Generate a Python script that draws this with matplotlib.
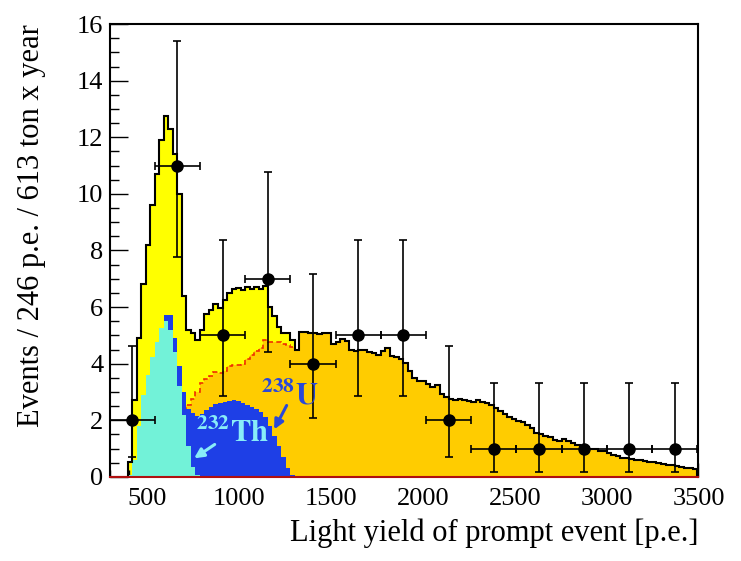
import numpy as np
import matplotlib
matplotlib.use("Agg")
import matplotlib.pyplot as plt
from matplotlib.ticker import MultipleLocator

plt.rcParams['font.family'] = ['Liberation Serif', 'DejaVu Serif']
plt.rcParams['mathtext.fontset'] = 'stix'

# ---------------- data ----------------
mc_first_edge = 295.0
mc_bin_width = 24.6
n_mc_bins = 130

# total expectation (yellow), bins 0..41; beyond that it equals the orange component
total_low = [0, 0, 0, 0, 0.54, 2.72, 4.9, 6.8, 8.2, 9.6,
             10.7, 11.9, 12.75, 12.3, 11.4, 10.0, 6.4, 5.2, 5.1, 4.85,
             5.2, 5.75, 5.9, 6.1, 5.95, 6.25, 6.5, 6.65, 6.67, 6.6,
             6.7, 6.65, 6.72, 6.65, 6.75, 6.02, 5.7, 5.3, 5.1, 5.08,
             4.85, 4.5]

# orange component, bins 14..129
orange_first_bin = 14
orange_vals = [1.0, 1.5, 2.0, 2.55, 2.75, 3.0, 3.3, 3.45, 3.55, 3.7,
               3.68, 3.75, 3.9, 3.95, 3.95, 4.0, 4.15, 4.3, 4.45, 4.55,
               4.84, 4.78, 4.78, 4.75, 4.7, 4.66, 4.6, 4.48, 5.13, 5.13,
               5.1, 5.1, 5.04, 5.09, 5.09, 4.7, 4.75, 4.87, 4.8, 4.5,
               4.46, 4.5, 4.5, 4.43, 4.38, 4.3, 4.46, 4.57, 4.28, 4.22,
               4.16, 4.04, 3.75, 3.51, 3.4, 3.38, 3.28, 3.17, 3.24, 2.93,
               2.81, 2.75, 2.72, 2.75, 2.72, 2.68, 2.66, 2.72, 2.66, 2.6,
               2.55, 2.45, 2.33, 2.22, 2.12, 2.03, 1.97, 1.93, 1.85, 1.74,
               1.56, 1.5, 1.46, 1.42, 1.3, 1.27, 1.35, 1.27, 1.2, 1.12,
               1.08, 1.05, 0.99, 0.97, 0.93, 0.9, 0.85, 0.78, 0.72, 0.68,
               0.65, 0.62, 0.6, 0.58, 0.56, 0.53, 0.51, 0.49, 0.46, 0.43,
               0.41, 0.38, 0.35, 0.33, 0.3, 0.28]

# 238U (blue), bins 4..40
u238_first_bin = 4
u238_vals = [0.03, 0.5, 1.7, 2.8, 3.5, 4.1, 4.6, 5.1, 5.72, 5.72,
             4.9, 3.9, 3.0, 2.4, 2.25, 2.15, 2.22, 2.36, 2.48, 2.56,
             2.62, 2.66, 2.68, 2.7, 2.68, 2.62, 2.55, 2.46, 2.4, 2.3,
             2.1, 1.8, 1.45, 1.1, 0.7, 0.3, 0.08]

# 232Th (cyan), bins 4..19
th232_first_bin = 4
th232_vals = [0.05, 0.6, 1.8, 2.9, 3.6, 4.25, 4.75, 5.25, 5.5, 5.2,
              4.4, 3.2, 2.2, 1.1, 0.35, 0.05]

# data points (246 p.e. bins)
data_x = [418, 664, 910, 1156, 1402, 1648, 1894, 2140, 2386, 2632, 2878, 3124, 3370]
data_y = [2, 11, 5, 7, 4, 5, 5, 2, 1, 1, 1, 1, 1]
data_err_lo = [1.29, 3.23, 2.16, 2.58, 1.91, 2.16, 2.16, 1.29, 0.83, 0.83, 0.83, 0.83, 0.83]
data_err_hi = [2.64, 4.40, 3.38, 3.77, 3.16, 3.38, 3.38, 2.64, 2.30, 2.30, 2.30, 2.30, 2.30]
data_half_width = 123

# ---------------- build histograms ----------------
edges = mc_first_edge + mc_bin_width * np.arange(n_mc_bins + 1)

def full(first, vals):
    arr = np.zeros(n_mc_bins)
    arr[first:first + len(vals)] = vals
    return arr

orange = full(orange_first_bin, orange_vals)
u238 = full(u238_first_bin, u238_vals)
th232 = full(th232_first_bin, th232_vals)
total = orange.copy()
total[:len(total_low)] = total_low

# ---------------- figure ----------------
fig = plt.figure(figsize=(7.41, 5.61), dpi=100)
ax = fig.add_axes([0.149, 0.150, 0.7936, 0.807])

c_yellow = '#ffff00'
c_orange = '#ffcc00'
c_blue = '#1e3fe6'
c_cyan = '#72f2d8'

ax.stairs(total, edges, fill=True, color=c_yellow, baseline=0, zorder=1)
ax.stairs(orange, edges, fill=True, color=c_orange, baseline=0, zorder=2)
ax.stairs(orange, edges, fill=False, color='#f03000', baseline=0, lw=1.2,
          linestyle=(0, (3, 2)), zorder=2.5)
ax.stairs(u238, edges, fill=True, color=c_blue, baseline=0, zorder=3)
ax.stairs(th232, edges, fill=True, color=c_cyan, baseline=0, zorder=4)
ax.stairs(total, edges, fill=False, color='black', baseline=0, lw=1.5, zorder=5)

ax.errorbar(data_x, data_y, yerr=[data_err_lo, data_err_hi], xerr=data_half_width,
            fmt='o', color='black', ms=8, capsize=3, elinewidth=1.2, capthick=1.2,
            zorder=6)

# annotations
ax.annotate('', xy=(1184, 1.59), xytext=(1266, 2.61),
            arrowprops=dict(arrowstyle='-|>', color='#2a48d8', lw=2.2, mutation_scale=14),
            zorder=7)
ax.text(1120, 2.55, r'$\mathbf{{}^{238}U}$', color='#2a48d8', fontsize=22,
        ha='left', va='baseline', zorder=7)
ax.annotate('', xy=(743, 0.6), xytext=(880, 1.2),
            arrowprops=dict(arrowstyle='-|>', color='#88ecf8', lw=2.2, mutation_scale=14),
            zorder=7)
ax.text(765, 1.22, r'$\mathbf{{}^{232}Th}$', color='#88ecf8', fontsize=22,
        ha='left', va='baseline', zorder=7)

ax.set_xlim(300, 3500)
ax.set_ylim(0, 16)

ax.xaxis.set_major_locator(MultipleLocator(500))
ax.xaxis.set_minor_locator(MultipleLocator(100))
ax.yaxis.set_major_locator(MultipleLocator(2))
ax.yaxis.set_minor_locator(MultipleLocator(0.5))
ax.tick_params(axis='both', which='both', direction='in', top=False, right=False,
               labelsize=19, width=1.0)
ax.tick_params(axis='y', which='major', length=12.7, pad=5)
ax.tick_params(axis='y', which='minor', length=6.3)
ax.tick_params(axis='x', which='major', length=9.8, pad=8)
ax.tick_params(axis='x', which='minor', length=4.9)

for s in ax.spines.values():
    s.set_linewidth(1.5)
    s.set_zorder(8)
ax.spines['bottom'].set_color('#b01010')

ax.set_xlabel('Light yield of prompt event [p.e.]', fontsize=22, loc='right')
ax.xaxis.set_label_coords(1.0, -0.092)
ax.set_ylabel('Events / 246 p.e. / 613 ton x year', fontsize=22, loc='top')
ax.yaxis.set_label_coords(-0.11, 1.0)

fig.savefig('out.png', dpi=100)
